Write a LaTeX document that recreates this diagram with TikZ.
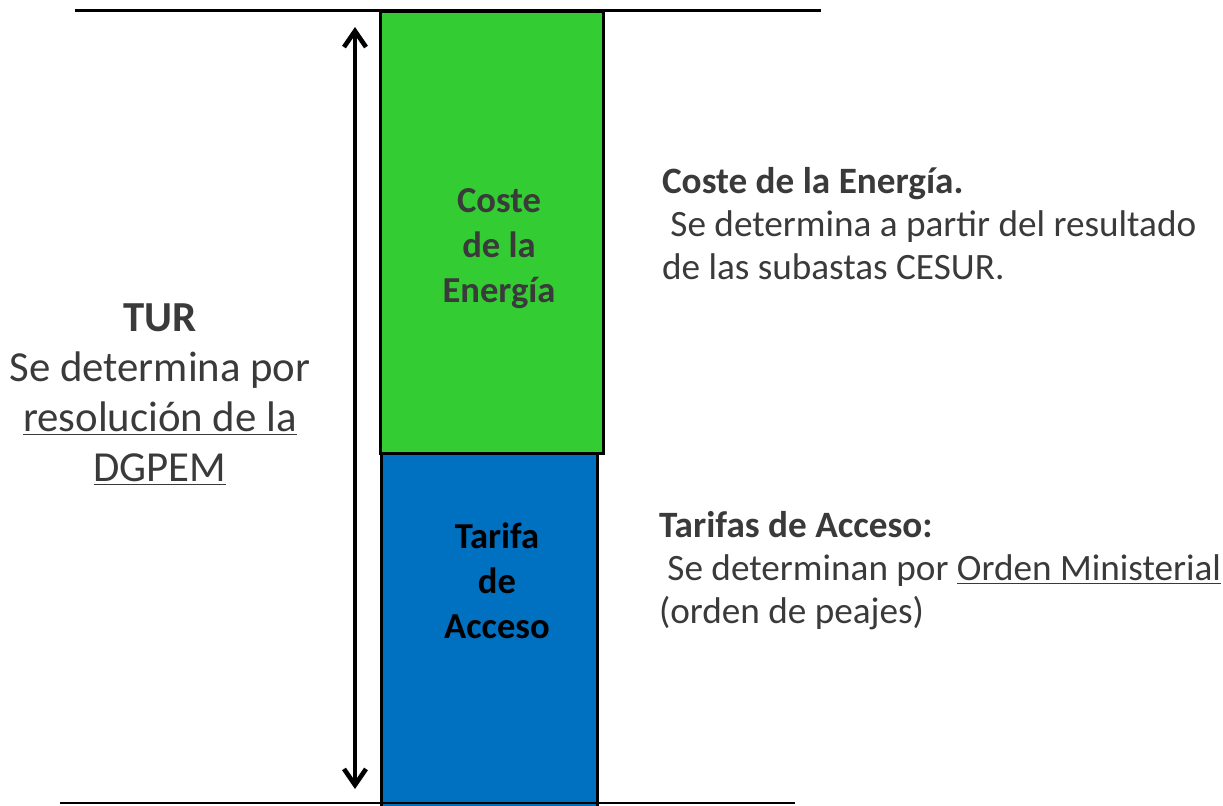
\documentclass[tikz,border=0pt]{standalone}
\usepackage{fontspec}
\setmainfont{Carlito}
\usetikzlibrary{positioning, arrows.meta}
\definecolor{costegreen}{HTML}{33CC33}
\definecolor{accesoblue}{HTML}{0070C0}
\definecolor{textgray}{HTML}{3A3A3A}

\begin{document}
\begin{tikzpicture}[x=0.5pt, y=-0.5pt, text=textgray]
\useasboundingbox (0,0) rectangle (1223,805);

% Define the two stacked blocks
\node (coste) [draw, rectangle, fill=costegreen, line width=1.5pt, inner sep=0pt, minimum width=111.5pt, minimum height=221pt, anchor=north west] at (379,10) {};
\node (acceso) [draw, rectangle, fill=accesoblue, line width=1.5pt, inner sep=0pt, minimum width=108pt, minimum height=180pt, below=-1.5pt of coste, xshift=-1.2pt] {};

% Text inside the blocks
\node (costetext) [align=center, font=\fontsize{18.3}{22.5}\selectfont\bfseries] at (499,249) {Coste\\de la\\Energía};
\node (accesotext) [align=center, text=black, font=\fontsize{18.3}{22.5}\selectfont\bfseries] at (497,581) {Tarifa\\de\\Acceso};

% Horizontal rules
\draw[line width=1.5pt] (75,10) -- (821,10);
\draw[line width=0.75pt] (60,803) -- (795,803);

% Double arrow for the whole TUR
\coordinate (turtop) at (355,27);
\coordinate (turbottom) at (355,789);
\draw[line width=2.3pt, {Straight Barb[length=8pt, width=11pt]}-{Straight Barb[length=8pt, width=11pt]}] (turtop) -- (turbottom);

% Explanations
\node (tur) [align=center, font=\fontsize{21.4}{25}\selectfont] at (160,395) {\textbf{TUR}\\Se determina por\\\underline{resolución de la}\\\underline{DGPEM}};
\node (costeinfo) [align=left, anchor=west, font=\fontsize{18.6}{21.5}\selectfont] at (655,223.5) {\textbf{Coste de la Energía.}\\\ Se determina a partir del resultado\\de las subastas CESUR.};
\node (accesoinfo) [align=left, anchor=west, font=\fontsize{18.6}{21.5}\selectfont] at (652,570.5) {\textbf{Tarifas de Acceso:}\\\ Se determinan por \underline{Orden Ministerial}\\(orden de peajes)};
\end{tikzpicture}
\end{document}
